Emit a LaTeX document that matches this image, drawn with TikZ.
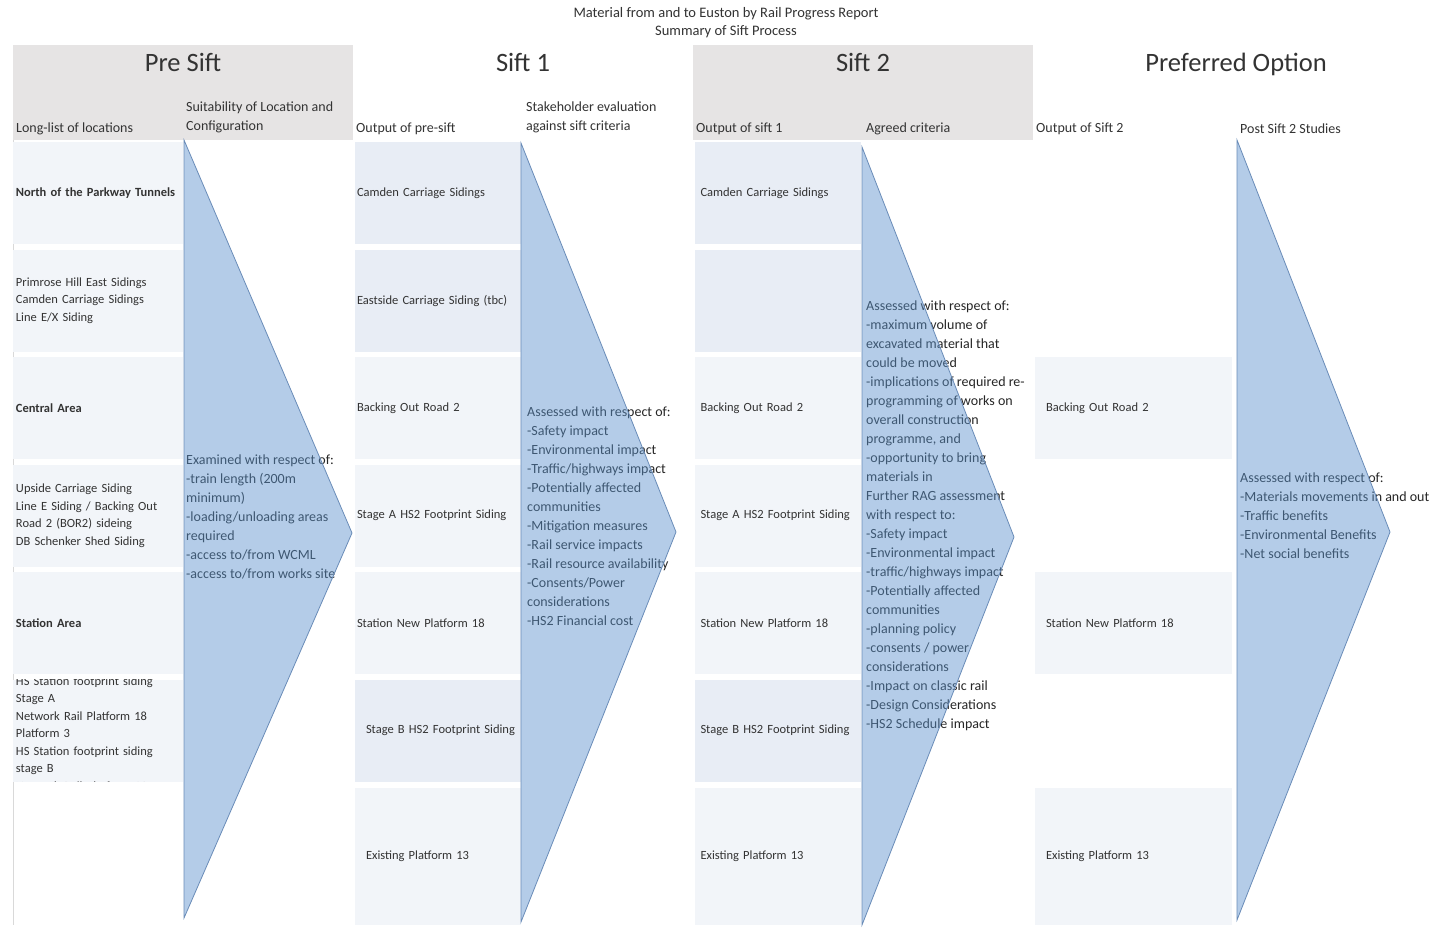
\documentclass[tikz,border=0pt]{standalone}
\usepackage{fontspec}
\setmainfont{Carlito}
\usetikzlibrary{positioning}

\definecolor{txt}{HTML}{333333}
\definecolor{band}{HTML}{E6E4E4}
\definecolor{cellA}{HTML}{F2F5F9}
\definecolor{cellB}{HTML}{E8EDF5}
\definecolor{chevfill}{RGB}{92,146,205}
\definecolor{chevline}{HTML}{6A8CB8}

\newcommand{\cellfont}{\fontsize{12.5}{17.5}\selectfont}
\newcommand{\critfont}{\fontsize{14}{19}\selectfont}

\begin{document}
\begin{tikzpicture}[x=1pt,y=-1pt,node distance=107.5pt,on grid,
 every node/.style={text=txt},
 cell/.style={minimum height=102pt,inner ysep=0pt,align=left,font=\cellfont},
 pre/.style={cell,fill=cellA,text width=164pt,inner xsep=3pt},
 sa/.style={cell,fill=cellA,text width=162pt,inner xsep=2pt},
 sb/.style={sa,fill=cellB},
 ta/.style={cell,fill=cellA,text width=155pt,inner xsep=5.5pt},
 tb/.style={ta,fill=cellB},
 opt/.style={cell,fill=cellA,text width=175pt,inner xsep=11pt},
 head/.style={anchor=base,font=\fontsize{26.5}{30}\selectfont},
 sub/.style={anchor=west,align=left,inner sep=0pt,font=\critfont},
 crit/.style={anchor=west,align=left,inner sep=0pt,font=\critfont,text=black!85},
 chev/.style={fill=chevfill,fill opacity=0.46,draw=chevline,line width=0.8pt}]

\fill[white] (0,0) rectangle (1441,930);
\useasboundingbox (0,0) rectangle (1441,930);

% title and stage headings
\node[align=center,font=\fontsize{14.5}{18}\selectfont] (title) at (726,23)
 {Material from and to Euston by Rail Progress Report\\Summary of Sift Process};
\fill[band] (13,45) rectangle (353,140);
\fill[band] (693,45) rectangle (1033,140);
\node[head] (h0) at (183,71) {Pre Sift};
\node[head] (h1) at (523,71) {Sift 1};
\node[head] (h2) at (863,71) {Sift 2};
\node[head] (h3) at (1236,71) {Preferred Option};

\node[sub] (c0) at (16,129) {Long-list of locations};
\node[sub] (c1) at (186,117.5) {Suitability of Location and\\Configuration};
\node[sub] (c2) at (356,129) {Output of pre-sift};
\node[sub] (c3) at (526,117.5) {Stakeholder evaluation\\against sift criteria};
\node[sub] (c4) at (696,129) {Output of sift 1};
\node[sub] (c5) at (866,129) {Agreed criteria};
\node[sub] (c6) at (1036,129) {Output of Sift 2};
\node[sub] (c7) at (1240,129) {Post Sift 2 Studies};

% pre sift
\draw[gray!30] (13,140) -- (13,925);
\node[pre] (p1) at (98,193) {\textbf{North of the Parkway Tunnels}};
\node[pre] (p2) [below=of p1] {Primrose Hill East Sidings\\Camden Carriage Sidings\\Line E/X Siding};
\node[pre] (p3) [below=of p2] {\textbf{Central Area}};
\node[pre] (p4) [below=of p3] {Upside Carriage Siding\\Line E Siding / Backing Out\\Road 2 (BOR2) sideing\\DB Schenker Shed Siding};
\node[pre] (p5) [below=of p4] {\textbf{Station Area}};
\node[pre] (p6) [below=of p5] {};
\begin{scope}
 \clip (p6.north west) rectangle (p6.south east);
 \node[cell,text width=164pt,inner xsep=3pt,yshift=-4pt] (p6t) at (p6) {HS Station footprint siding\\Stage A\\Network Rail Platform 18\\Platform 3\\HS Station footprint siding\\stage B\\Network Rail platform 13};
\end{scope}

% sift 1
\node[sb] (s1) at (438,193) {Camden Carriage Sidings};
\node[sb] (s2) [below=of s1] {Eastside Carriage Siding (tbc)};
\node[sa] (s3) [below=of s2] {Backing Out Road 2};
\node[sa] (s4) [below=of s3] {Stage A HS2 Footprint Siding};
\node[sa] (s5) [below=of s4] {Station New Platform 18};
\node[sb] (s6) [below=of s5] {\hspace*{9pt}Stage B HS2 Footprint Siding};
\node[sa,minimum height=137pt] (s7) [below=126pt of s6] {\hspace*{9pt}Existing Platform 13};

% sift 2
\node[tb] (t1) at (778,193) {Camden Carriage Sidings};
\node[tb] (t2) [below=of t1] {};
\node[ta] (t3) [below=of t2] {Backing Out Road 2};
\node[ta] (t4) [below=of t3] {Stage A HS2 Footprint Siding};
\node[ta] (t5) [below=of t4] {Station New Platform 18};
\node[tb] (t6) [below=of t5] {Stage B HS2 Footprint Siding};
\node[ta,minimum height=137pt] (t7) [below=126pt of t6] {Existing Platform 13};

% preferred option
\node[opt] (o3) at (1133.5,408) {Backing Out Road 2};
\node[opt] (o5) [below=215pt of o3] {Station New Platform 18};
\node[opt,minimum height=137pt] (o7) [below=233.5pt of o5] {Existing Platform 13};

% criteria, then the chevrons laid over them
\node[crit] (k0) at (186,517) {Examined with respect of:\\-train length (200m\\minimum)\\-loading/unloading areas\\required\\-access to/from WCML\\-access to/from works site};
\node[crit] (k1) at (527,516.5) {Assessed with respect of:\\-Safety impact\\-Environmental impact\\-Traffic/highways impact\\-Potentially affected\\communities\\-Mitigation measures\\-Rail service impacts\\-Rail resource availability\\-Consents/Power\\considerations\\-HS2 Financial cost};
\node[crit] (k2) at (866,516) {Assessed with respect of:\\-maximum volume of\\excavated material that\\could be moved\\-implications of required re-\\programming of works on\\overall construction\\programme, and\\-opportunity to bring\\materials in\\Further RAG assessment\\with respect to:\\-Safety impact\\-Environmental impact\\-traffic/highways impact\\-Potentially affected\\communities\\-planning policy\\-consents / power\\considerations\\-Impact on classic rail\\-Design Considerations\\-HS2 Schedule impact};
\node[crit] (k3) at (1240,516) {Assessed with respect of:\\-Materials movements in and out\\-Traffic benefits\\-Environmental Benefits\\-Net social benefits};

\draw[chev] (184,140) -- (352,533) -- (184,918) -- cycle;
\draw[chev] (521,143) -- (676,532) -- (521,922) -- cycle;
\draw[chev] (862,147) -- (1014,537) -- (862,925) -- cycle;
\draw[chev] (1237,140) -- (1390,532) -- (1237,920) -- cycle;
\end{tikzpicture}
\end{document}
